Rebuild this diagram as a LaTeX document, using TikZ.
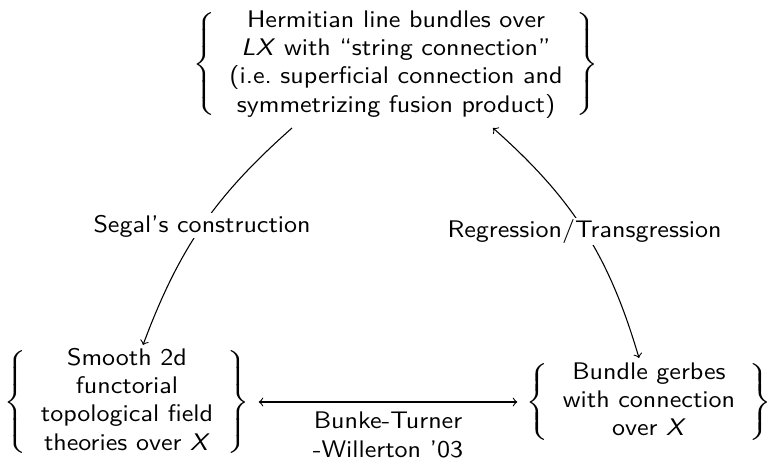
\documentclass[tikz,border=0pt]{standalone}
\usepackage{unicode-math}
\setsansfont{lmsans10-regular.otf}[FakeStretch=1.085,ItalicFont=lmsans10-oblique.otf,BoldFont=lmsans10-bold.otf]
\usetikzlibrary{calc}
\begin{document}
\begin{tikzpicture}[x=0.41667pt,y=-0.41667pt,
  every node/.style={font=\sffamily\fontsize{10}{11.8}\selectfont},
  setnode/.style={inner sep=0pt},
  lbl/.style={fill=white,inner sep=0.6pt},
  arr/.style={line width=0.45pt}]
\useasboundingbox (0,0) rectangle (768,461);
\node[setnode] (top) at (396,64) {$\left\{\begin{tabular}{c}Hermitian line bundles over\\ \textit{LX} with “string connection”\\ (i.e.\ superficial connection and\\ symmetrizing fusion product)\end{tabular}\right\}$};
\node[setnode] (bl) at (127,402) {$\left\{\begin{tabular}{c}Smooth 2d\\ functorial\\ topological field\\ theories over \textit{X}\end{tabular}\right\}$};
\node[setnode] (br) at (649,402) {$\left\{\begin{tabular}{c}Bundle gerbes\\ with connection\\ over \textit{X}\end{tabular}\right\}$};
\draw[arr,->] ($(top)+(-104,64)$) to[bend right=14] node[lbl]{Segal’s construction} ($(bl)+(16,-57)$);
\draw[arr,<->] ($(top)+(97,64)$) to[bend left=16] node[lbl]{Regression/Transgression} ($(br)+(-10,-44)$);
\draw[arr,<->] ($(bl.east)+(9,0)$) -- node[below=4pt,inner sep=0pt,align=center]{Bunke-Turner\\-Willerton ’03} ($(br.west)+(-9,0)$);
\end{tikzpicture}
\end{document}
